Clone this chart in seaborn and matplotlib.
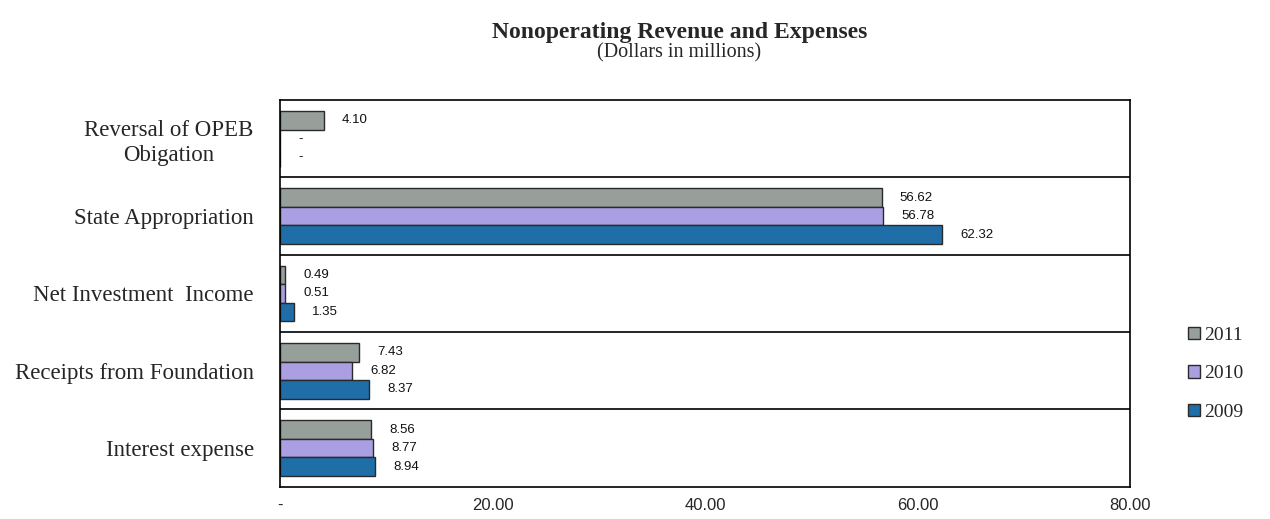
import matplotlib
matplotlib.use("Agg")
import matplotlib.pyplot as plt
from matplotlib.patches import Patch
from matplotlib.ticker import FuncFormatter
import seaborn as sns
import pandas as pd

# Nonoperating revenue and expenses, dollars in millions
categories = [
    "Reversal of OPEB\nObigation",
    "State Appropriation",
    "Net Investment  Income",
    "Receipts from Foundation",
    "Interest expense",
]
years = ["2011", "2010", "2009"]
values_2011 = [4.10, 56.62, 0.49, 7.43, 8.56]
values_2010 = [0.00, 56.78, 0.51, 6.82, 8.77]
values_2009 = [0.00, 62.32, 1.35, 8.37, 8.94]
x_ticks = [0, 20, 40, 60, 80]

colors = {"2011": "#979f9a", "2010": "#aa9fe2", "2009": "#1f6ea7"}

rows = []
for year, vals in zip(years, [values_2011, values_2010, values_2009]):
    for cat, v in zip(categories, vals):
        rows.append({"category": cat, "year": year, "value": v})
df = pd.DataFrame(rows)

sns.set_style("white")
serif = ["Liberation Serif", "DejaVu Serif"]
sans = ["Liberation Sans", "DejaVu Sans"]

fig = plt.figure(figsize=(12.7, 5.19), dpi=100)
ax = fig.add_axes([0.2205, 0.062, 0.6693, 0.745])

sns.barplot(
    data=df, y="category", x="value", hue="year",
    order=categories, hue_order=years, palette=colors,
    orient="h", width=0.72, edgecolor="#2a2a2a", linewidth=1.0,
    saturation=1, ax=ax, legend=False,
)

ax.set_xlim(0, 80)
ax.set_ylim(len(categories) - 0.5, -0.5)
ax.set_xticks(x_ticks)
ax.xaxis.set_major_formatter(
    FuncFormatter(lambda v, _: "-" if v == 0 else f"{v:.2f}")
)
ax.tick_params(axis="x", direction="out", length=4, width=1, color="black",
               pad=4, labelsize=12)
ax.tick_params(axis="y", length=0, pad=19)
for lbl in ax.get_xticklabels():
    lbl.set_family(sans)
for lbl in ax.get_yticklabels():
    lbl.set_family(serif)
    lbl.set_fontsize(16.5)
    lbl.set_multialignment("center")
ax.set_xlabel("")
ax.set_ylabel("")

for s in ax.spines.values():
    s.set_visible(True)
    s.set_color("black")
    s.set_linewidth(1.2)

# separators between category bands
for i in range(1, len(categories)):
    ax.axhline(i - 0.5, color="black", linewidth=1.2)

# value labels at the bar ends
for cont in ax.containers:
    labels = ["-" if b.get_width() == 0 else f"{b.get_width():.2f}" for b in cont]
    ax.bar_label(cont, labels=labels, padding=13, fontsize=9.5,
                 family=sans, color="#111111")

# legend on the right
handles = [Patch(facecolor=colors[y], edgecolor="#2a2a2a", linewidth=1.0)
           for y in years]
fig.legend(handles, years, loc="center left", bbox_to_anchor=(0.922, 0.28),
           frameon=False, prop={"family": serif, "size": 14},
           handlelength=0.6, handleheight=0.6, handletextpad=0.2,
           labelspacing=1.1)

fig.text(0.535, 0.937, "Nonoperating Revenue and Expenses", ha="center",
         va="center", family=serif, fontweight="bold", fontsize=17)
fig.text(0.535, 0.898, "(Dollars in millions)", ha="center", va="center",
         family=serif, fontsize=14.5)

fig.savefig("out.png", dpi=100, facecolor="white")
